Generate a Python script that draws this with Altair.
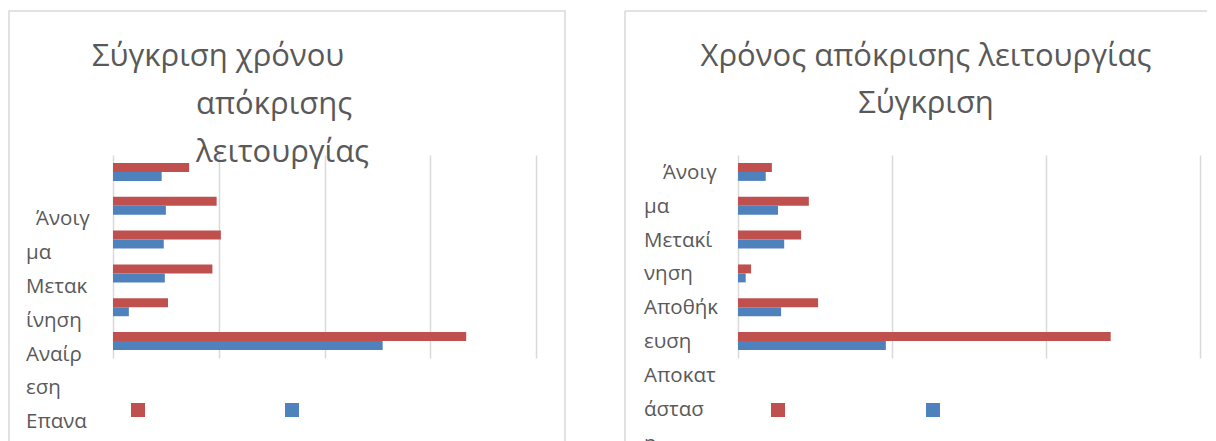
import altair as alt
import pandas as pd

# ---- data ----
categories = ["1", "2", "3", "4", "5", "6"]
series_names = ["Σειρά1", "Σειρά2"]

left_red = [0.72, 0.98, 1.02, 0.94, 0.52, 3.34]
left_blue = [0.46, 0.50, 0.48, 0.49, 0.15, 2.55]
right_red = [0.22, 0.46, 0.41, 0.085, 0.52, 2.42]
right_blue = [0.18, 0.26, 0.30, 0.05, 0.28, 0.96]

left_ticks = [0, 1, 2, 3, 4]
right_ticks = [0, 1, 2, 3]

left_label_lines = ["Άνοιγ", "μα", "Μετακ", "ίνηση", "Αναίρ", "εση", "Επανα"]
right_label_lines = ["Άνοιγ", "μα", "Μετακί", "νηση", "Αποθήκ", "ευση", "Αποκατ", "άστασ", "η"]

left_title_lines = ["Σύγκριση χρόνου", "απόκρισης", "λειτουργίας"]
right_title_lines = ["Χρόνος απόκρισης λειτουργίας", "Σύγκριση"]

# ---- styles ----
RED = "#C0504D"
BLUE = "#4F81BD"
GRID = "#D9D9D9"
TEXT = "#595959"
FONT = "Open Sans"
TITLE_SIZE = 31
LABEL_SIZE = 20.5
PLOT_H = 203


def panel(red, blue, ticks, width, label_lines, label_start, first_x, rest_x,
          frame_layers, title_specs, legend_x, legend_gap):
    rows = []
    for c, r, b in zip(categories, red, blue):
        rows.append({"cat": c, "series": series_names[0], "value": r})
        rows.append({"cat": c, "series": series_names[1], "value": b})
    df = pd.DataFrame(rows)

    bars = alt.Chart(df).mark_bar().encode(
        y=alt.Y("cat:N", sort=categories,
                scale=alt.Scale(paddingInner=0.47, paddingOuter=0.235), axis=None),
        yOffset=alt.YOffset("series:N",
                            scale=alt.Scale(domain=series_names, paddingInner=0, paddingOuter=0)),
        x=alt.X("value:Q", scale=alt.Scale(domain=[0, ticks[-1]], nice=False, zero=True),
                axis=alt.Axis(values=ticks, labels=False, ticks=False, domain=False,
                              grid=True, gridColor=GRID, gridWidth=1.5, title=None)),
        color=alt.Color("series:N",
                        scale=alt.Scale(domain=series_names, range=[RED, BLUE]),
                        legend=alt.Legend(orient="none", legendX=legend_x, legendY=248,
                                          direction="horizontal", title=None,
                                          labelExpr="''", symbolType="square",
                                          symbolSize=196, symbolStrokeWidth=0,
                                          symbolOpacity=1, labelOffset=0,
                                          columnPadding=legend_gap, padding=0)),
    )

    lab = pd.DataFrame({"line": label_lines,
                        "pos": [label_start + i for i in range(len(label_lines))]})
    yscale = alt.Scale(domain=[0, len(categories)], reverse=True, nice=False, zero=False)
    lab_first = alt.Chart(lab.iloc[:1]).mark_text(
        align="left", baseline="middle", font=FONT, fontSize=LABEL_SIZE, color=TEXT
    ).encode(y=alt.Y("pos:Q", scale=yscale, axis=None), x=alt.value(first_x), text="line:N")
    lab_rest = alt.Chart(lab.iloc[1:]).mark_text(
        align="left", baseline="middle", font=FONT, fontSize=LABEL_SIZE, color=TEXT
    ).encode(y=alt.Y("pos:Q", scale=yscale, axis=None), x=alt.value(rest_x), text="line:N")

    one = pd.DataFrame({"k": [0]})
    titles = []
    for txt, tx, ty, al in title_specs:
        titles.append(
            alt.Chart(one).mark_text(text=txt, align=al, baseline="alphabetic", font=FONT,
                                     fontSize=TITLE_SIZE, color=TEXT)
            .encode(x=alt.value(tx), y=alt.value(ty))
        )
    frames = [f(one) for f in frame_layers]
    return alt.layer(*frames, bars, lab_first, lab_rest, *titles).resolve_scale(
        y="independent"
    ).properties(width=width, height=PLOT_H)


# chart-area borders (left panel: full box; right panel: only left and top edges fit the page)
left_frame = [
    lambda d: alt.Chart(d).mark_rect(fillOpacity=0, stroke=GRID, strokeWidth=1.5).encode(
        x=alt.value(-104), x2=alt.value(452), y=alt.value(-144), y2=alt.value(400))
]
right_frame = [
    lambda d: alt.Chart(d).mark_rule(color=GRID, strokeWidth=1.5).encode(
        x=alt.value(-113), y=alt.value(-144), y2=alt.value(400)),
    lambda d: alt.Chart(d).mark_rule(color=GRID, strokeWidth=1.5).encode(
        x=alt.value(-113), x2=alt.value(469), y=alt.value(-144)),
]

left = panel(left_red, left_blue, left_ticks, 423, left_label_lines, 1.9, -77, -87,
             left_frame,
             [(left_title_lines[0], -21, -89, "left"),
              (left_title_lines[1], 83, -41, "left"),
              (left_title_lines[2], 83, 7, "left")],
             18, 140)

right = panel(right_red, right_blue, right_ticks, 462, right_label_lines, 0.53, -75, -94,
              right_frame,
              [(right_title_lines[0], 188, -89, "center"),
               (right_title_lines[1], 188, -42, "center")],
              33, 141)

chart = alt.hconcat(left, right, spacing=202, bounds="flush").resolve_scale(
    color="independent"
).properties(
    padding={"left": 0, "top": 2, "right": 0, "bottom": 0}
).configure_view(strokeWidth=0)

chart.save("out.html", embed_options={"renderer": "svg", "actions": False})
